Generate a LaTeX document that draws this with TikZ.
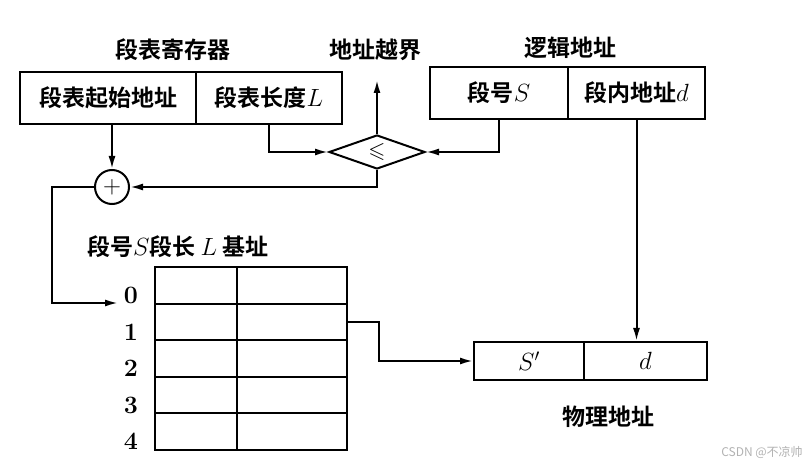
\documentclass[tikz,border=0pt]{standalone}
\usepackage{amssymb}
\usepackage{fontspec}
\newfontfamily\cjk{Noto Sans CJK SC}[BoldFont={Noto Sans CJK SC Bold}]
\usetikzlibrary{arrows.meta,positioning,shapes.geometric,calc}

\begin{document}
\begin{tikzpicture}[x=1pt,y=-1pt,
    line width=2pt,
    cell/.style={draw,inner sep=0pt,minimum height=52,
      font=\cjk\bfseries\fontsize{23}{26}\selectfont},
    tcell/.style={draw,inner sep=0pt,minimum height=36.6},
    title/.style={font=\cjk\bfseries\fontsize{23}{26}\selectfont,inner sep=0pt},
    num/.style={font=\bfseries\fontsize{25}{28}\selectfont,inner sep=0pt},
    arr/.style={-{Latex[length=13pt,width=7pt]}}
  ]
  \useasboundingbox (0,0) rectangle (809,470);

  % segment table register
  \node[title] (regtitle) at (173,50) {段表寄存器};
  \node[cell,minimum width=176] (base) at (108,98) {段表起始地址};
  \node[cell,minimum width=146] (len) at (269,98) {段表长度$L$};

  % logical address
  \node[title] (logtitle) at (570,48) {逻辑地址};
  \node[cell,minimum width=138] (segno) at (499,93) {段号$S$};
  \node[cell,minimum width=137] (offset) at (636.5,93) {段内地址$d$};

  % comparator and adder
  \node[draw,diamond,aspect=2.8,minimum width=96,minimum height=34,inner sep=0pt,
    font=\fontsize{22}{24}\selectfont] (cmp) at (377,152) {$\leqslant$};
  \node[title] (oob) at (375,50) {地址越界};
  \coordinate (oobtip) at (377,80);
  \node[draw,circle,minimum size=34,inner sep=0pt,font=\fontsize{24}{26}\selectfont]
    (plus) at (112,187) {$+$};

  % segment table
  \node[title,anchor=west] (tabtitle) at (86,247) {段号$S$段长 $L$ 基址};
  \foreach \i in {0,...,4}{
    \pgfmathsetmacro\ry{285.3+36.6*\i}
    \node[tcell,minimum width=82] (ta\i) at (196,\ry) {};
    \node[tcell,minimum width=110] (tb\i) at (292,\ry) {};
    \node[num] (row\i) at (131,{\ry+10}) {\i};
  }
  \coordinate (in0) at (118,303);

  % physical address
  \node[cell,minimum width=110,minimum height=38] (sp) at (529,361) {$S'$};
  \node[cell,minimum width=123,minimum height=38] (dp) at (645.5,361) {$d$};
  \node[title] (phystitle) at (608,417) {物理地址};

  % connectors
  \draw[arr] (len.south) |- (cmp.west);
  \draw[arr] (segno.south) |- (cmp.east);
  \draw[arr] (cmp.north) -- (oobtip);
  \draw[arr] (cmp.south) |- (plus.east);
  \draw[arr] (base.south -| plus) -- (plus.north);
  \draw[arr] (plus.west) -- ++(-42,0) |- (in0);
  \draw[arr] (tb1.east) -- ++(31,0) |- (sp.west);
  \draw[arr] (offset.south) -- (offset.south |- dp.north);

  \node[font=\cjk\fontsize{12}{14}\selectfont,text=gray!60] (mark) at (762,452) {CSDN @不凉帅};
\end{tikzpicture}
\end{document}
